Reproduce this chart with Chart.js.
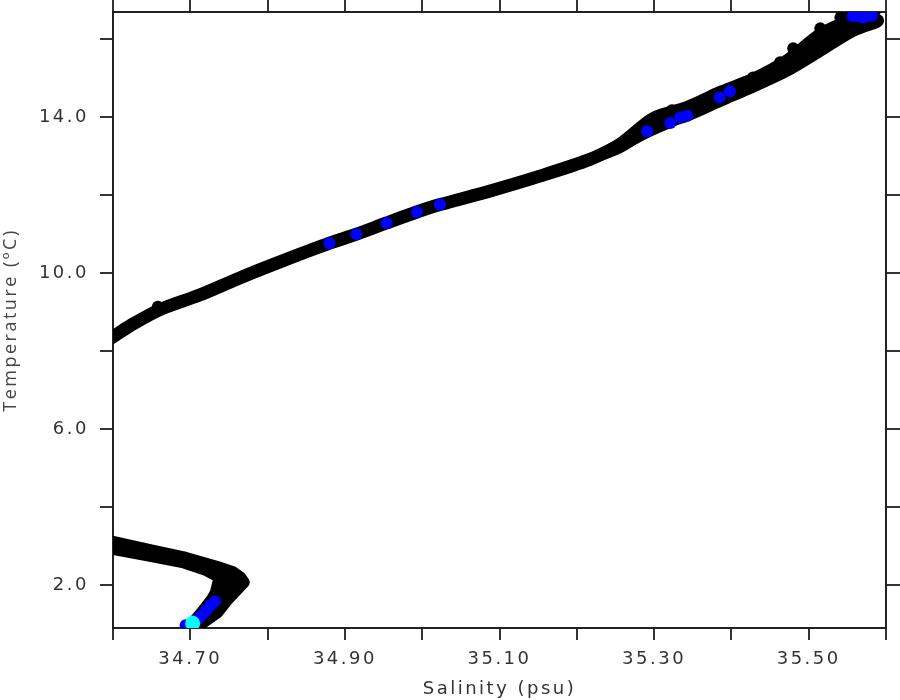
<!DOCTYPE html>
<html lang="en">
<head>
  <meta charset="UTF-8">
  <title>T-S diagram</title>
  <script src="https://cdn.jsdelivr.net/npm/chart.js"></script>
  <style>
    body { margin: 0; background: #fff; }
  </style>
</head>
<body>
  <canvas id="tsChart" width="900" height="700"></canvas>

  <script>
    // axis ticks
    const salTicks = [34.6, 34.7, 34.8, 34.9, 35.0, 35.1, 35.2, 35.3, 35.4, 35.5, 35.6];
    const salLabels = [34.7, 34.9, 35.1, 35.3, 35.5];
    const tempTicks = [2, 4, 6, 8, 10, 12, 14, 16];
    const tempLabels = [2, 6, 10, 14];

    // thermocline branch (centre of the dense band)
    const upperSal  = [34.590, 34.600, 34.622, 34.660, 34.712, 34.764, 34.816, 34.880, 34.915, 34.954, 34.993, 35.023, 35.088, 35.152, 35.217, 35.256, 35.291, 35.321, 35.343, 35.385, 35.428, 35.472, 35.515, 35.557, 35.589];
    const upperTemp = [8.24, 8.37, 8.65, 9.06, 9.44, 9.88, 10.29, 10.77, 11.00, 11.29, 11.57, 11.76, 12.11, 12.49, 12.92, 13.28, 13.64, 13.90, 14.12, 14.55, 14.90, 15.33, 15.92, 16.38, 16.48];

    // wider scatter near the surface, two edges
    const surfASal  = [35.217, 35.256, 35.299, 35.343, 35.386, 35.428, 35.472, 35.515, 35.557, 35.579, 35.590];
    const surfATemp = [12.92, 13.34, 14.00, 14.28, 14.67, 15.00, 15.48, 16.15, 16.53, 16.64, 16.80];
    const surfBSal  = [35.217, 35.256, 35.299, 35.343, 35.386, 35.428, 35.472, 35.515, 35.557, 35.588];
    const surfBTemp = [12.92, 13.22, 13.74, 14.03, 14.41, 14.77, 15.18, 15.69, 16.20, 16.43];

    // deep branch: outer edge, inner edge, middle and nose of the band
    const deepASal  = [34.590, 34.600, 34.648, 34.690, 34.734, 34.755, 34.765, 34.769, 34.748, 34.735, 34.709, 34.703];
    const deepATemp = [3.14, 3.11, 2.90, 2.72, 2.47, 2.33, 2.19, 2.07, 1.63, 1.30, 0.94, 0.80];
    const deepBSal  = [34.590, 34.600, 34.648, 34.690, 34.719, 34.738, 34.733, 34.728, 34.715, 34.700, 34.694];
    const deepBTemp = [2.96, 2.93, 2.75, 2.59, 2.40, 2.20, 1.81, 1.63, 1.30, 0.94, 0.82];
    const deepCSal  = [34.590, 34.600, 34.648, 34.690, 34.734, 34.760, 34.752, 34.738, 34.725, 34.704, 34.698];
    const deepCTemp = [3.05, 3.02, 2.84, 2.66, 2.43, 2.22, 1.94, 1.63, 1.30, 0.94, 0.80];
    const deepDSal  = [34.734, 34.750, 34.745, 34.736];
    const deepDTemp = [2.35, 2.15, 1.84, 1.58];

    // single black samples off the band
    const outSal  = [35.299, 35.323, 35.428, 35.463, 35.480, 35.515, 35.541, 35.589, 35.575, 35.550, 34.658];
    const outTemp = [13.87, 14.18, 15.02, 15.41, 15.77, 16.28, 16.56, 16.48, 16.75, 16.72, 9.14];

    // blue samples
    const blueSal  = [34.880, 34.915, 34.954, 34.993, 35.023, 35.291, 35.321, 35.334, 35.343, 35.385, 35.398,
                      35.557, 35.564, 35.570, 35.577, 35.582,
                      34.732, 34.726, 34.721, 34.716, 34.711, 34.706, 34.694];
    const blueTemp = [10.77, 11.00, 11.29, 11.57, 11.76, 13.64, 13.85, 14.00, 14.04, 14.51, 14.67,
                      16.59, 16.59, 16.56, 16.59, 16.61,
                      1.58, 1.48, 1.35, 1.25, 1.15, 1.07, 0.97];

    // cyan (deepest) sample
    const cyanSal  = [34.703];
    const cyanTemp = [1.02];

    function pts(sal, temp) {
      return sal.map((s, i) => ({ x: s, y: temp[i] }));
    }

    function band(sal, temp, width, tension) {
      return {
        data: pts(sal, temp),
        showLine: true,
        borderColor: '#000',
        borderWidth: width,
        borderCapStyle: 'round',
        borderJoinStyle: 'round',
        tension: tension,
        pointRadius: 0,
        clip: 0,
        order: 5
      };
    }

    function dots(sal, temp, color, r, order) {
      return {
        data: pts(sal, temp),
        backgroundColor: color,
        borderWidth: 0,
        pointRadius: r,
        clip: 0,
        order: order
      };
    }

    const inList = (list, v) => list.some(t => Math.abs(t - v) < 1e-6);
    const tickFont = { family: 'DejaVu Sans', size: 18 };
    const axisGrid = { drawOnChartArea: false, drawTicks: true, tickLength: 12, color: '#333', lineWidth: 2 };
    const axisBorder = { display: true, color: '#222', width: 2 };

    // keep the plot box where the axes say, no label overhang padding
    const noPad = s => { s.paddingTop = 0; s.paddingBottom = 0; s.paddingLeft = 0; s.paddingRight = 0; };

    // wide, spaced lettering like the original plot
    const spacing = {
      id: 'spacing',
      beforeDraw(chart) { chart.ctx.letterSpacing = '2.5px'; }
    };

    new Chart(document.getElementById('tsChart').getContext('2d'), {
      type: 'scatter',
      data: {
        datasets: [
          band(upperSal, upperTemp, 13, 0.3),
          band(surfASal, surfATemp, 11, 0.3),
          band(surfBSal, surfBTemp, 11, 0.3),
          band(deepASal, deepATemp, 12, 0),
          band(deepBSal, deepBTemp, 12, 0),
          band(deepCSal, deepCTemp, 12, 0),
          band(deepDSal, deepDTemp, 12, 0),
          dots(outSal, outTemp, '#000', 6, 4),
          dots(blueSal, blueTemp, '#0000ff', 6, 2),
          dots(cyanSal, cyanTemp, '#00ffff', 7.5, 1)
        ]
      },
      options: {
        responsive: false,
        devicePixelRatio: 1,
        animation: false,
        layout: { padding: 0 },
        plugins: { legend: { display: false }, tooltip: { enabled: false } },
        scales: {
          x: {
            type: 'linear', position: 'bottom', min: 34.6, max: 35.6,
            afterBuildTicks: s => { s.ticks = salTicks.map(v => ({ value: v })); },
            afterFit: s => { s.height = 72; noPad(s); },
            ticks: {
              font: tickFont, color: '#333', padding: 9, maxRotation: 0, autoSkip: false,
              callback: v => inList(salLabels, v) ? v.toFixed(2) : ''
            },
            grid: axisGrid, border: axisBorder,
            title: { display: true, text: 'Salinity (psu)', font: tickFont, color: '#333', padding: { top: 0, bottom: 0 } }
          },
          x2: {
            type: 'linear', axis: 'x', position: 'top', min: 34.6, max: 35.6,
            afterBuildTicks: s => { s.ticks = salTicks.map(v => ({ value: v })); },
            afterFit: s => { s.height = 12; noPad(s); },
            ticks: { display: false },
            grid: axisGrid, border: axisBorder
          },
          y: {
            type: 'linear', position: 'left', min: 0.9, max: 16.7,
            afterBuildTicks: s => { s.ticks = tempTicks.map(v => ({ value: v })); },
            afterFit: s => { s.width = 113; noPad(s); },
            ticks: {
              font: tickFont, color: '#333', padding: 11, autoSkip: false,
              callback: v => inList(tempLabels, v) ? v.toFixed(1) : ''
            },
            grid: Object.assign({}, axisGrid, { tickLength: 13 }), border: axisBorder,
            title: { display: true, text: 'Temperature (ºC)', font: { family: 'Open Sans', size: 18 }, color: '#444', padding: { top: 0, bottom: 0 } }
          },
          y2: {
            type: 'linear', axis: 'y', position: 'right', min: 0.9, max: 16.7,
            afterBuildTicks: s => { s.ticks = tempTicks.map(v => ({ value: v })); },
            afterFit: s => { s.width = 14; noPad(s); },
            ticks: { display: false },
            grid: Object.assign({}, axisGrid, { tickLength: 14 }), border: axisBorder
          }
        }
      },
      plugins: [spacing]
    });
  </script>
</body>
</html>
